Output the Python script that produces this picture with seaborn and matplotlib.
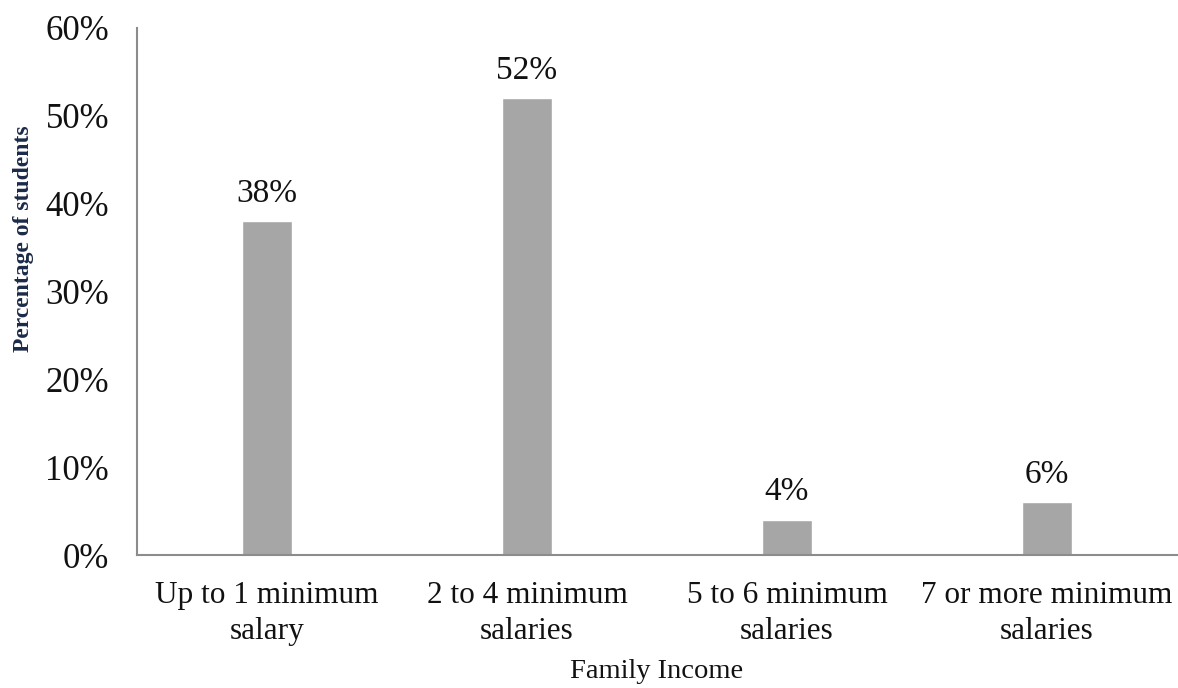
import matplotlib
matplotlib.use("Agg")
import matplotlib.pyplot as plt
import seaborn as sns
import pandas as pd

categories = ["Up to 1 minimum\nsalary", "2 to 4 minimum\nsalaries",
              "5 to 6 minimum\nsalaries", "7 or more minimum\nsalaries"]
shares = [0.38, 0.52, 0.04, 0.06]
value_labels = ["38%", "52%", "4%", "6%"]
yticks = [0.0, 0.1, 0.2, 0.3, 0.4, 0.5, 0.6]
ytick_labels = ["0%", "10%", "20%", "30%", "40%", "50%", "60%"]

sns.set_style("white")
plt.rcParams["font.family"] = ["Liberation Serif", "DejaVu Serif"]

df = pd.DataFrame({"income": categories, "share": shares})

fig = plt.figure(figsize=(11.78, 6.88), dpi=100)
ax = fig.add_axes([137 / 1178, 1 - 555 / 688, 1040 / 1178, 527 / 688])

sns.barplot(data=df, x="income", y="share", color="#A6A6A6", saturation=1,
            width=0.19, ax=ax)

for patch, txt in zip(ax.patches, value_labels):
    ax.annotate(txt, (patch.get_x() + patch.get_width() / 2, patch.get_height()),
                xytext=(0, 9), textcoords="offset points",
                ha="center", va="bottom", fontsize=24, color="#111111")

ax.set_ylim(0, 0.6)
ax.set_xlim(-0.5, 3.5)
ax.set_yticks(yticks)
ax.set_yticklabels(ytick_labels, fontsize=25, color="#111111")
ax.tick_params(axis="y", length=0, pad=20)
ax.tick_params(axis="x", length=0, pad=19, labelsize=22.5, labelcolor="#111111")
for lbl in ax.get_xticklabels():
    lbl.set_linespacing(1.28)

ax.set_xlabel("Family Income", fontsize=20.5, color="#111111", labelpad=10)
ax.set_ylabel("Percentage of students", fontsize=17, fontweight="bold",
              color="#1B2A48")
ax.yaxis.set_label_coords(-0.099, 0.60)

for side in ["top", "right"]:
    ax.spines[side].set_visible(False)
for side in ["left", "bottom"]:
    ax.spines[side].set_color("#8C8C8C")
    ax.spines[side].set_linewidth(1.5)

fig.savefig("out.png", dpi=100)
